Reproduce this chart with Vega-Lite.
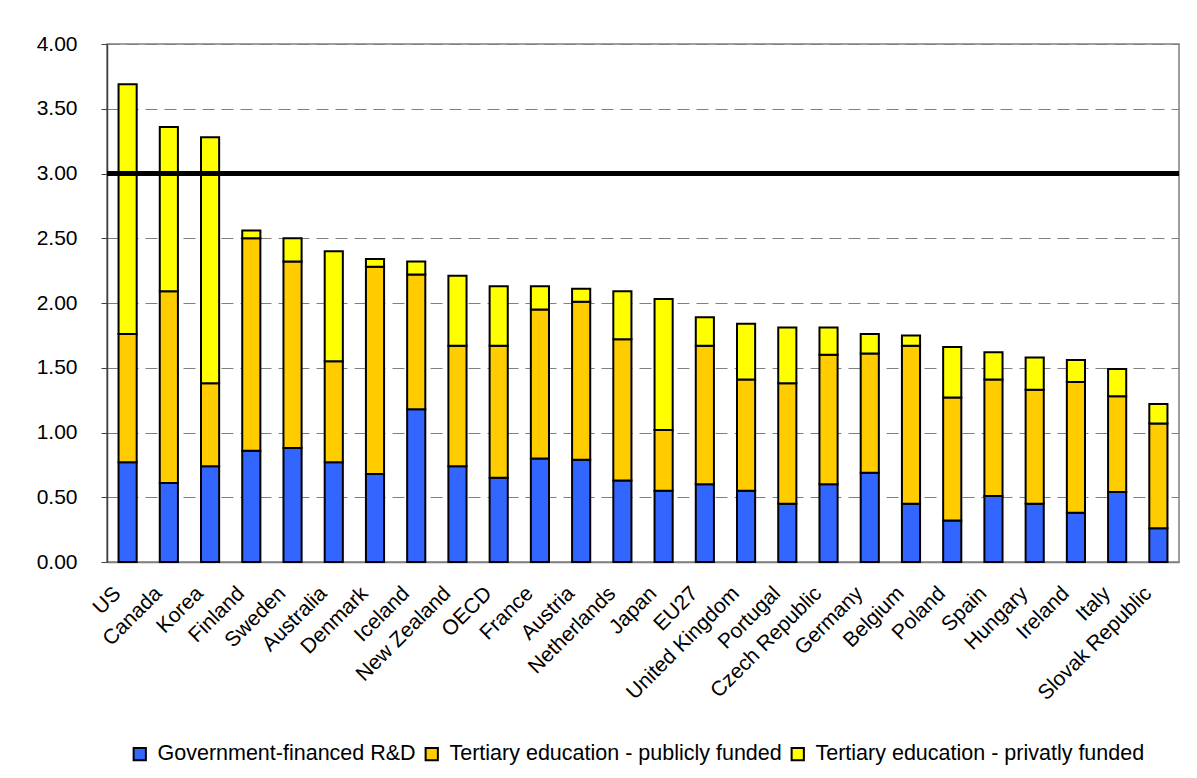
{
  "$schema": "https://vega.github.io/schema/vega-lite/v6.json",
  "autosize": "none",
  "padding": {"left": 107, "top": 44, "right": 18, "bottom": 216},
  "width": 1072,
  "height": 518,
  "background": "white",
  "config": {
    "font": "Liberation Sans",
    "view": {"stroke": "#808080", "strokeWidth": 1.5},
    "axis": {"labelFont": "Liberation Sans", "labelColor": "black"}
  },
  "datasets": {
    "bars": [
      {"country": "US", "series": "Government-financed R&D", "o": 1, "value": 0.77},
      {"country": "US", "series": "Tertiary education - publicly funded", "o": 2, "value": 0.99},
      {"country": "US", "series": "Tertiary education - privatly funded", "o": 3, "value": 1.93},
      {"country": "Canada", "series": "Government-financed R&D", "o": 1, "value": 0.61},
      {"country": "Canada", "series": "Tertiary education - publicly funded", "o": 2, "value": 1.48},
      {"country": "Canada", "series": "Tertiary education - privatly funded", "o": 3, "value": 1.27},
      {"country": "Korea", "series": "Government-financed R&D", "o": 1, "value": 0.74},
      {"country": "Korea", "series": "Tertiary education - publicly funded", "o": 2, "value": 0.64},
      {"country": "Korea", "series": "Tertiary education - privatly funded", "o": 3, "value": 1.90},
      {"country": "Finland", "series": "Government-financed R&D", "o": 1, "value": 0.86},
      {"country": "Finland", "series": "Tertiary education - publicly funded", "o": 2, "value": 1.64},
      {"country": "Finland", "series": "Tertiary education - privatly funded", "o": 3, "value": 0.06},
      {"country": "Sweden", "series": "Government-financed R&D", "o": 1, "value": 0.88},
      {"country": "Sweden", "series": "Tertiary education - publicly funded", "o": 2, "value": 1.44},
      {"country": "Sweden", "series": "Tertiary education - privatly funded", "o": 3, "value": 0.18},
      {"country": "Australia", "series": "Government-financed R&D", "o": 1, "value": 0.77},
      {"country": "Australia", "series": "Tertiary education - publicly funded", "o": 2, "value": 0.78},
      {"country": "Australia", "series": "Tertiary education - privatly funded", "o": 3, "value": 0.85},
      {"country": "Denmark", "series": "Government-financed R&D", "o": 1, "value": 0.68},
      {"country": "Denmark", "series": "Tertiary education - publicly funded", "o": 2, "value": 1.60},
      {"country": "Denmark", "series": "Tertiary education - privatly funded", "o": 3, "value": 0.06},
      {"country": "Iceland", "series": "Government-financed R&D", "o": 1, "value": 1.18},
      {"country": "Iceland", "series": "Tertiary education - publicly funded", "o": 2, "value": 1.04},
      {"country": "Iceland", "series": "Tertiary education - privatly funded", "o": 3, "value": 0.10},
      {"country": "New Zealand", "series": "Government-financed R&D", "o": 1, "value": 0.74},
      {"country": "New Zealand", "series": "Tertiary education - publicly funded", "o": 2, "value": 0.93},
      {"country": "New Zealand", "series": "Tertiary education - privatly funded", "o": 3, "value": 0.54},
      {"country": "OECD", "series": "Government-financed R&D", "o": 1, "value": 0.65},
      {"country": "OECD", "series": "Tertiary education - publicly funded", "o": 2, "value": 1.02},
      {"country": "OECD", "series": "Tertiary education - privatly funded", "o": 3, "value": 0.46},
      {"country": "France", "series": "Government-financed R&D", "o": 1, "value": 0.80},
      {"country": "France", "series": "Tertiary education - publicly funded", "o": 2, "value": 1.15},
      {"country": "France", "series": "Tertiary education - privatly funded", "o": 3, "value": 0.18},
      {"country": "Austria", "series": "Government-financed R&D", "o": 1, "value": 0.79},
      {"country": "Austria", "series": "Tertiary education - publicly funded", "o": 2, "value": 1.22},
      {"country": "Austria", "series": "Tertiary education - privatly funded", "o": 3, "value": 0.10},
      {"country": "Netherlands", "series": "Government-financed R&D", "o": 1, "value": 0.63},
      {"country": "Netherlands", "series": "Tertiary education - publicly funded", "o": 2, "value": 1.09},
      {"country": "Netherlands", "series": "Tertiary education - privatly funded", "o": 3, "value": 0.37},
      {"country": "Japan", "series": "Government-financed R&D", "o": 1, "value": 0.55},
      {"country": "Japan", "series": "Tertiary education - publicly funded", "o": 2, "value": 0.47},
      {"country": "Japan", "series": "Tertiary education - privatly funded", "o": 3, "value": 1.01},
      {"country": "EU27", "series": "Government-financed R&D", "o": 1, "value": 0.60},
      {"country": "EU27", "series": "Tertiary education - publicly funded", "o": 2, "value": 1.07},
      {"country": "EU27", "series": "Tertiary education - privatly funded", "o": 3, "value": 0.22},
      {"country": "United Kingdom", "series": "Government-financed R&D", "o": 1, "value": 0.55},
      {"country": "United Kingdom", "series": "Tertiary education - publicly funded", "o": 2, "value": 0.86},
      {"country": "United Kingdom", "series": "Tertiary education - privatly funded", "o": 3, "value": 0.43},
      {"country": "Portugal", "series": "Government-financed R&D", "o": 1, "value": 0.45},
      {"country": "Portugal", "series": "Tertiary education - publicly funded", "o": 2, "value": 0.93},
      {"country": "Portugal", "series": "Tertiary education - privatly funded", "o": 3, "value": 0.43},
      {"country": "Czech Republic", "series": "Government-financed R&D", "o": 1, "value": 0.60},
      {"country": "Czech Republic", "series": "Tertiary education - publicly funded", "o": 2, "value": 1.00},
      {"country": "Czech Republic", "series": "Tertiary education - privatly funded", "o": 3, "value": 0.21},
      {"country": "Germany", "series": "Government-financed R&D", "o": 1, "value": 0.69},
      {"country": "Germany", "series": "Tertiary education - publicly funded", "o": 2, "value": 0.92},
      {"country": "Germany", "series": "Tertiary education - privatly funded", "o": 3, "value": 0.15},
      {"country": "Belgium", "series": "Government-financed R&D", "o": 1, "value": 0.45},
      {"country": "Belgium", "series": "Tertiary education - publicly funded", "o": 2, "value": 1.22},
      {"country": "Belgium", "series": "Tertiary education - privatly funded", "o": 3, "value": 0.08},
      {"country": "Poland", "series": "Government-financed R&D", "o": 1, "value": 0.32},
      {"country": "Poland", "series": "Tertiary education - publicly funded", "o": 2, "value": 0.95},
      {"country": "Poland", "series": "Tertiary education - privatly funded", "o": 3, "value": 0.39},
      {"country": "Spain", "series": "Government-financed R&D", "o": 1, "value": 0.51},
      {"country": "Spain", "series": "Tertiary education - publicly funded", "o": 2, "value": 0.90},
      {"country": "Spain", "series": "Tertiary education - privatly funded", "o": 3, "value": 0.21},
      {"country": "Hungary", "series": "Government-financed R&D", "o": 1, "value": 0.45},
      {"country": "Hungary", "series": "Tertiary education - publicly funded", "o": 2, "value": 0.88},
      {"country": "Hungary", "series": "Tertiary education - privatly funded", "o": 3, "value": 0.25},
      {"country": "Ireland", "series": "Government-financed R&D", "o": 1, "value": 0.38},
      {"country": "Ireland", "series": "Tertiary education - publicly funded", "o": 2, "value": 1.01},
      {"country": "Ireland", "series": "Tertiary education - privatly funded", "o": 3, "value": 0.17},
      {"country": "Italy", "series": "Government-financed R&D", "o": 1, "value": 0.54},
      {"country": "Italy", "series": "Tertiary education - publicly funded", "o": 2, "value": 0.74},
      {"country": "Italy", "series": "Tertiary education - privatly funded", "o": 3, "value": 0.21},
      {"country": "Slovak Republic", "series": "Government-financed R&D", "o": 1, "value": 0.26},
      {"country": "Slovak Republic", "series": "Tertiary education - publicly funded", "o": 2, "value": 0.81},
      {"country": "Slovak Republic", "series": "Tertiary education - privatly funded", "o": 3, "value": 0.15}
    ],
    "target": [{"target": 3}]
  },
  "layer": [
    {
      "data": {"name": "bars"},
      "mark": {"type": "bar", "stroke": "black", "strokeWidth": 2},
      "encoding": {
        "x": {
          "field": "country",
          "type": "nominal",
          "sort": null,
          "title": null,
          "scale": {"paddingInner": 0.56, "paddingOuter": 0.28},
          "axis": {
            "labelAngle": -45,
            "labelAlign": "right",
            "labelBaseline": "middle",
            "labelFontSize": 21,
            "labelPadding": 28,
            "labelOffset": -10,
            "ticks": false,
            "domainColor": "#808080",
            "domainWidth": 1.5,
            "labelOverlap": false
          }
        },
        "y": {
          "field": "value",
          "type": "quantitative",
          "stack": "zero",
          "title": null,
          "scale": {"domain": [0, 4], "nice": false},
          "axis": {
            "values": [0, 0.5, 1, 1.5, 2, 2.5, 3, 3.5, 4],
            "format": ".2f",
            "labelFontSize": 21,
            "labelPadding": 24,
            "tickSize": 6,
            "tickColor": "#404040",
            "domainColor": "#404040",
            "domainWidth": 1.5,
            "gridColor": "#808080",
            "gridDash": [12, 7],
            "gridWidth": 1
          }
        },
        "color": {
          "field": "series",
          "type": "nominal",
          "title": null,
          "scale": {
            "domain": ["Government-financed R&D", "Tertiary education - publicly funded", "Tertiary education - privatly funded"],
            "range": ["#3366FF", "#FFCC00", "#FFFF00"]
          },
          "legend": {
            "orient": "none",
            "direction": "horizontal",
            "legendX": 22,
            "legendY": 699,
            "symbolType": "square",
            "symbolSize": 150,
            "symbolStrokeColor": "black",
            "symbolStrokeWidth": 2,
            "labelFontSize": 21.5,
            "labelFont": "Liberation Sans",
            "labelColor": "black",
            "labelOffset": 7,
            "columnPadding": 5,
            "labelLimit": 500
          }
        },
        "order": {"field": "o", "type": "quantitative"}
      }
    },
    {
      "data": {"name": "target"},
      "mark": {"type": "rule", "color": "black", "strokeWidth": 5},
      "encoding": {
        "y": {"field": "target", "type": "quantitative"}
      }
    }
  ]
}
